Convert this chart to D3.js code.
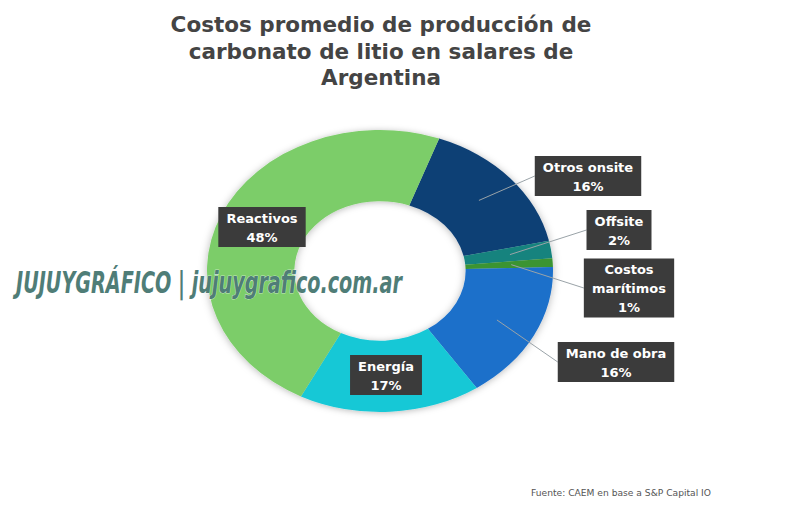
<!DOCTYPE html>
<html>
<head>
<meta charset="utf-8">
<script src="https://cdn.jsdelivr.net/npm/d3@7"></script>
<style>
  body { margin: 0; background: #fff; }
  svg { display: block; }
</style>
</head>
<body>
<svg id="chart" width="800" height="514"></svg>
<script>
// data
const categories = ["Otros onsite", "Offsite", "Costos marítimos", "Mano de obra", "Energía", "Reactivos"];
const values = [16, 2, 1, 16, 17, 48];
const colors = ["#0c3f75", "#13837e", "#3b9430", "#1b6fca", "#19c8d6", "#7ccd69"];
const titleLines = ["Costos promedio de producción de", "carbonato de litio en salares de", "Argentina"];
const source = "Fuente: CAEM en base a S&P Capital IO";

const data = categories.map((c, i) => ({ label: c, value: values[i], color: colors[i] }));

let width = 800,
    height = 514,
    cx = 380,
    cy = 271,
    radius = 173,
    squash = 0.815   // the reference donut is stretched horizontally

// where each label box sits (center of box) and whether it gets a leader line
const labelLayout = {
    "Otros onsite": { x: 588, y: 176, line: true },
    "Offsite": { x: 619, y: 230, line: true },
    "Costos marítimos": { x: 629, y: 288, line: true },
    "Mano de obra": { x: 616, y: 362, line: true },
    "Energía": { x: 386, y: 375, line: false },
    "Reactivos": { x: 262, y: 227, line: false }
};

const svg = d3.select("#chart");

let pie = d3.pie()
    .sort(null)
    .startAngle(20 * Math.PI / 180)
    .endAngle(20 * Math.PI / 180 + 2 * Math.PI)
    .value((d) => d.value)

const arc = d3.arc()
    .outerRadius(radius)
    .innerRadius(radius * 0.495);

const lineArc = d3.arc()
    .outerRadius(radius * 0.76)
    .innerRadius(radius * 0.76);

const defs = svg.append("defs");
const f = defs.append("filter").attr("id", "shadow")
    .attr("x", "-20%").attr("y", "-20%").attr("width", "140%").attr("height", "140%");
f.append("feDropShadow")
    .attr("dx", 0).attr("dy", 1)
    .attr("stdDeviation", 4)
    .attr("flood-color", "#000")
    .attr("flood-opacity", 0.28);

// title
svg.append("g")
    .selectAll("text")
    .data(titleLines)
    .join("text")
    .attr("x", 381)
    .attr("y", (d, i) => 32 + i * 26.5)
    .attr("text-anchor", "middle")
    .attr("font-family", "'DejaVu Sans', sans-serif")
    .attr("font-weight", 700)
    .attr("font-size", 21.5)
    .attr("fill", "#444")
    .text((d) => d);

// donut
const arcs = pie(data);

svg.append("g")
    .attr("class", "slices")
    .attr("transform", "translate(" + cx + "," + cy + ") scale(1," + squash + ")")
    .attr("filter", "url(#shadow)")
    .selectAll("path.slice")
    .data(arcs)
    .join("path")
    .attr("class", "slice")
    .attr("d", arc)
    .attr("fill", (d) => d.data.color);

// watermark
svg.append("text")
    .attr("x", 16)
    .attr("y", 293)
    .attr("font-family", "'Liberation Sans Narrow', 'DejaVu Sans Condensed', sans-serif")
    .attr("font-weight", 700)
    .attr("font-style", "italic")
    .attr("font-size", 31)
    .attr("textLength", 386)
    .attr("lengthAdjust", "spacingAndGlyphs")
    .attr("fill", "#4f7d77")
    .attr("stroke", "#fff")
    .attr("stroke-width", 0.6)
    .style("paint-order", "stroke")
    .text("JUJUYGRÁFICO | jujuygrafico.com.ar");

// leader lines
const toScreen = (p) => [cx + p[0], cy + p[1] * squash];

const leaders = svg.append("g")
    .attr("class", "lines")
    .selectAll("polyline")
    .data(arcs.filter((d) => labelLayout[d.data.label].line))
    .join("polyline")
    .attr("fill", "none")
    .attr("stroke", "#9aa3a8")
    .attr("stroke-width", 1);

// label boxes
const labelText = (d) => {
    const name = d.data.label === "Costos marítimos" ? ["Costos", "marítimos"] : [d.data.label];
    return name.concat([d.data.value + "%"]);
};

const labels = svg.append("g")
    .attr("class", "label")
    .selectAll("g")
    .data(arcs)
    .join("g")
    .attr("transform", (d) => "translate(" + labelLayout[d.data.label].x + "," + labelLayout[d.data.label].y + ")");

labels.each((d, i, e) => {
    const g = d3.select(e[i]);
    const lines = labelText(d);
    const lh = 19;
    const rect = g.append("rect").attr("fill", "#3b3b3b");
    const t = g.append("text")
        .attr("text-anchor", "middle")
        .attr("font-family", "'DejaVu Sans', sans-serif")
        .attr("font-weight", 700)
        .attr("font-size", 13)
        .attr("fill", "#fff");
    t.selectAll("tspan")
        .data(lines)
        .join("tspan")
        .attr("x", 0)
        .attr("y", (s, j) => (j - (lines.length - 1) / 2) * lh + 5)
        .text((s) => s);
    const bb = t.node().getBBox();
    const w = bb.width + 16,
        h = lines.length * lh + 2;
    rect.attr("x", -w / 2).attr("y", -h / 2).attr("width", w).attr("height", h);
    d.boxLeft = labelLayout[d.data.label].x - w / 2;
});

leaders.attr("points", (d) => {
    const lay = labelLayout[d.data.label];
    const start = toScreen(lineArc.centroid(d));
    return [start, [d.boxLeft, lay.y]];
});

// source
svg.append("text")
    .attr("x", 531)
    .attr("y", 496)
    .attr("font-family", "'DejaVu Sans', sans-serif")
    .attr("font-size", 8.5)
    .attr("textLength", 180)
    .attr("lengthAdjust", "spacingAndGlyphs")
    .attr("fill", "#555")
    .text(source);
</script>
</body>
</html>
